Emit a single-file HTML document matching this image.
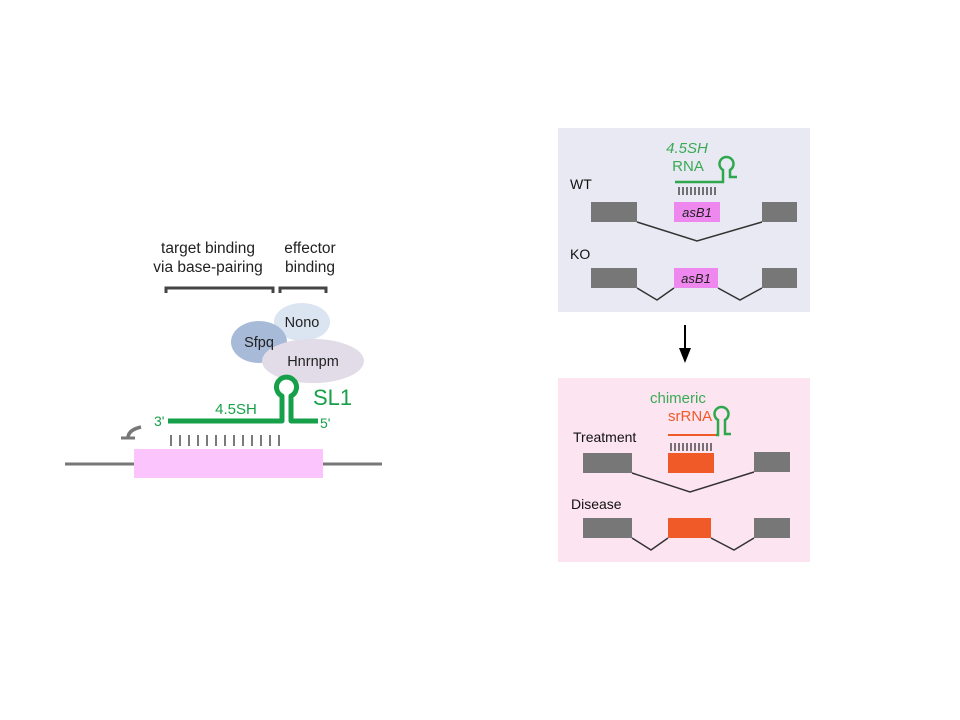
<!DOCTYPE html>
<html><head><meta charset="utf-8"><style>
html,body{margin:0;padding:0;background:#fff;}
svg{display:block;font-family:"Liberation Sans",sans-serif;}
</style></head><body>
<svg width="960" height="720" viewBox="0 0 960 720">
<!-- LEFT -->
<g font-size="15.5" fill="#222" text-anchor="middle">
<text x="208" y="253">target binding</text>
<text x="208" y="272">via base-pairing</text>
<text x="310" y="253">effector</text>
<text x="310" y="272">binding</text>
</g>
<g fill="none" stroke="#444" stroke-width="3">
<path d="M166,293 V288 H273 V293"/>
<path d="M280,293 V288 H326 V293"/>
</g>
<ellipse cx="302" cy="322" rx="28" ry="19" fill="#dbe4f1"/>
<ellipse cx="259" cy="342" rx="28" ry="21" fill="#a7bad8"/>
<ellipse cx="313" cy="361" rx="51" ry="22" fill="#e1dce8"/>
<g font-size="14.5" fill="#222" text-anchor="middle">
<text x="302" y="327">Nono</text>
<text x="259" y="347">Sfpq</text>
<text x="313" y="366">Hnrnpm</text>
</g>
<line x1="65" y1="464" x2="382" y2="464" stroke="#777" stroke-width="3"/>
<rect x="134" y="449" width="189" height="29" fill="#fcc4fc"/>
<g stroke="#222" stroke-width="1.2">
<line x1="171" y1="435" x2="171" y2="446"/><line x1="180" y1="435" x2="180" y2="446"/><line x1="189" y1="435" x2="189" y2="446"/><line x1="198" y1="435" x2="198" y2="446"/><line x1="207" y1="435" x2="207" y2="446"/><line x1="216" y1="435" x2="216" y2="446"/><line x1="225" y1="435" x2="225" y2="446"/><line x1="234" y1="435" x2="234" y2="446"/><line x1="243" y1="435" x2="243" y2="446"/><line x1="252" y1="435" x2="252" y2="446"/><line x1="261" y1="435" x2="261" y2="446"/><line x1="270" y1="435" x2="270" y2="446"/><line x1="279" y1="435" x2="279" y2="446"/>
</g>
<path d="M168,421 H282 V396 A10,10 0 1 1 291,396 V421 H318" fill="none" stroke="#17a04a" stroke-width="5" stroke-linejoin="round"/>
<g fill="#17a04a">
<text x="154" y="426" font-size="14">3'</text>
<text x="320" y="428" font-size="14">5'</text>
<text x="236" y="414" font-size="15" text-anchor="middle">4.5SH</text>
<text x="313" y="405" font-size="22">SL1</text>
</g>
<path d="M141,427 Q128,430 128,438" fill="none" stroke="#777" stroke-width="3.5"/>
<line x1="121" y1="438" x2="135" y2="438" stroke="#777" stroke-width="3"/>

<!-- RIGHT TOP -->
<rect x="558" y="128" width="252" height="184" fill="#e9e9f3"/>
<text x="570" y="189" font-size="14" fill="#111">WT</text>
<text x="570" y="259" font-size="14" fill="#111">KO</text>
<g fill="#777">
<rect x="591" y="202" width="46" height="20"/><rect x="762" y="202" width="35" height="20"/>
<rect x="591" y="268" width="46" height="20"/><rect x="762" y="268" width="35" height="20"/>
</g>
<rect x="674" y="202" width="46" height="20" fill="#ee88ee"/>
<rect x="674" y="268" width="44" height="20" fill="#ee88ee"/>
<g font-size="13" font-style="italic" fill="#222" text-anchor="middle">
<text x="697" y="217">asB1</text><text x="696" y="283">asB1</text>
</g>
<g fill="none" stroke="#333" stroke-width="1.5">
<path d="M637,222 L697,241 L762,222"/>
<path d="M637,288 L657,300 L674,288"/>
<path d="M718,288 L740,300 L762,288"/>
</g>
<g stroke="#222" stroke-width="1.2"><path d="M679,187v8M683,187v8M687,187v8M691,187v8M695,187v8M699,187v8M703,187v8M707,187v8M711,187v8M715,187v8"/></g>
<path d="M675,182 H723 V170 A7,7 0 1 1 730,170 V177 H737" fill="none" stroke="#2ea84c" stroke-width="2.5"/>
<g fill="#3aaa55" font-size="15" text-anchor="middle">
<text x="687" y="153" font-style="italic">4.5SH</text>
<text x="688" y="171">RNA</text>
</g>

<!-- arrow -->
<line x1="685" y1="325" x2="685" y2="350" stroke="#000" stroke-width="2"/>
<polygon points="679,348 691,348 685,363" fill="#000"/>

<!-- RIGHT BOTTOM -->
<rect x="558" y="378" width="252" height="184" fill="#fce4f0"/>
<text x="573" y="442" font-size="14" fill="#111">Treatment</text>
<text x="571" y="509" font-size="14" fill="#111">Disease</text>
<g fill="#777">
<rect x="583" y="453" width="49" height="20"/><rect x="754" y="452" width="36" height="20"/>
<rect x="583" y="518" width="49" height="20"/><rect x="754" y="518" width="36" height="20"/>
</g>
<rect x="668" y="453" width="46" height="20" fill="#f05a28"/>
<rect x="668" y="518" width="43" height="20" fill="#f05a28"/>
<g fill="none" stroke="#333" stroke-width="1.5">
<path d="M632,473 L690,492 L754,472"/>
<path d="M632,538 L651,550 L668,538"/>
<path d="M711,538 L734,550 L754,538"/>
</g>
<g stroke="#222" stroke-width="1.2"><path d="M671,443v8M675,443v8M679,443v8M683,443v8M687,443v8M691,443v8M695,443v8M699,443v8M703,443v8M707,443v8M711,443v8"/></g>
<line x1="668" y1="435" x2="718" y2="435" stroke="#f05a28" stroke-width="2"/>
<path d="M716,435 H718 V420 A7,7 0 1 1 725,420 V434 H731" fill="none" stroke="#2ea84c" stroke-width="2.5"/>
<text x="650" y="403" font-size="15" fill="#3aaa55">chimeric</text>
<text x="668" y="421" font-size="15" fill="#f05a28">srRNA</text>
</svg>
</body></html>
